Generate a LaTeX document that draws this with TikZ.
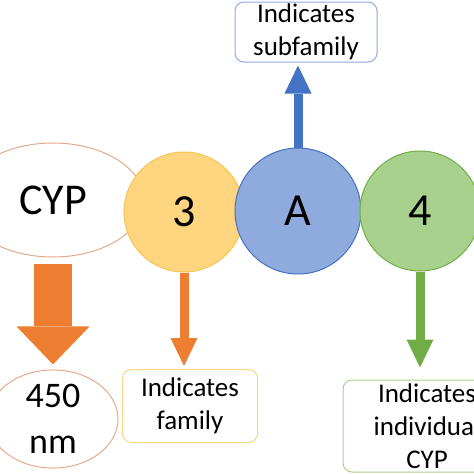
\documentclass[tikz,border=0pt]{standalone}
\usepackage{fontspec}
\setmainfont{Carlito}
\usetikzlibrary{arrows.meta,shapes.geometric}

\definecolor{cypline}{RGB}{226,170,138}
\definecolor{famfill}{RGB}{255,213,128}
\definecolor{famline}{RGB}{246,196,80}
\definecolor{subfill}{RGB}{143,170,220}
\definecolor{subline}{RGB}{68,114,196}
\definecolor{indfill}{RGB}{169,209,142}
\definecolor{indline}{RGB}{112,173,71}
\definecolor{arrorange}{RGB}{237,125,49}

\begin{document}
\begin{tikzpicture}[x=1pt, y=-1pt,
  letter/.style={circle, draw, line width=1pt, minimum size=120pt, inner sep=0pt,
    font=\fontsize{46}{52}\selectfont},
  infobox/.style={draw, rounded corners=9pt, line width=1pt, fill=white, align=center,
    inner sep=0pt, font=\fontsize{27}{33}\selectfont},
  pointer/.style={line width=9pt, -{Triangle[width=27pt,length=28pt,line width=0pt]}}]
  \useasboundingbox (0,0) rectangle (474,474);

  % the name CYP3A4, part by part
  \node[ellipse, draw=cypline, line width=1pt, minimum width=182pt, minimum height=114pt,
    inner sep=0pt, font=\fontsize{44}{50}\selectfont] (cyp) at (53,200) {CYP};
  \node[letter, draw=famline, fill=famfill] (fam) at (184,212) {3};
  \node[letter, draw=subline, fill=subfill, minimum size=126pt] (sub) at (298,211) {A};
  \node[letter, draw=indline, fill=indfill] (ind) at (420,211) {4};

  \node[ellipse, draw=cypline, line width=1pt, minimum width=130pt, minimum height=90pt,
    inner sep=0pt, align=center, font=\fontsize{36}{46}\selectfont] (nm) at (53,419) {450\\nm};

  \node[infobox, draw=subfill, minimum width=142pt, minimum height=60pt] (subtext) at (306,32) {Indicates\\subfamily};
  \node[infobox, draw=famline!70, minimum width=135pt, minimum height=73pt] (famtext) at (190,406) {Indicates\\family};
  \node[infobox, draw=indfill, minimum width=168pt, minimum height=92pt] (indtext) at (427,426) {Indicates\\individual\\CYP};

  \draw[line width=38pt, arrorange, shorten <=6pt, shorten >=5pt,
    -{Triangle[width=73pt,length=38pt,line width=0pt]}] (cyp.south) -- (nm.north);
  \draw[pointer, subline, shorten >=3pt] (sub.north) -- (sub.north |- subtext.south);
  \draw[pointer, arrorange, shorten >=3pt] (fam.south) -- (fam.south |- famtext.north);
  \draw[pointer, indline, shorten >=12pt] (ind.south) -- (ind.south |- indtext.north);
\end{tikzpicture}
\end{document}
